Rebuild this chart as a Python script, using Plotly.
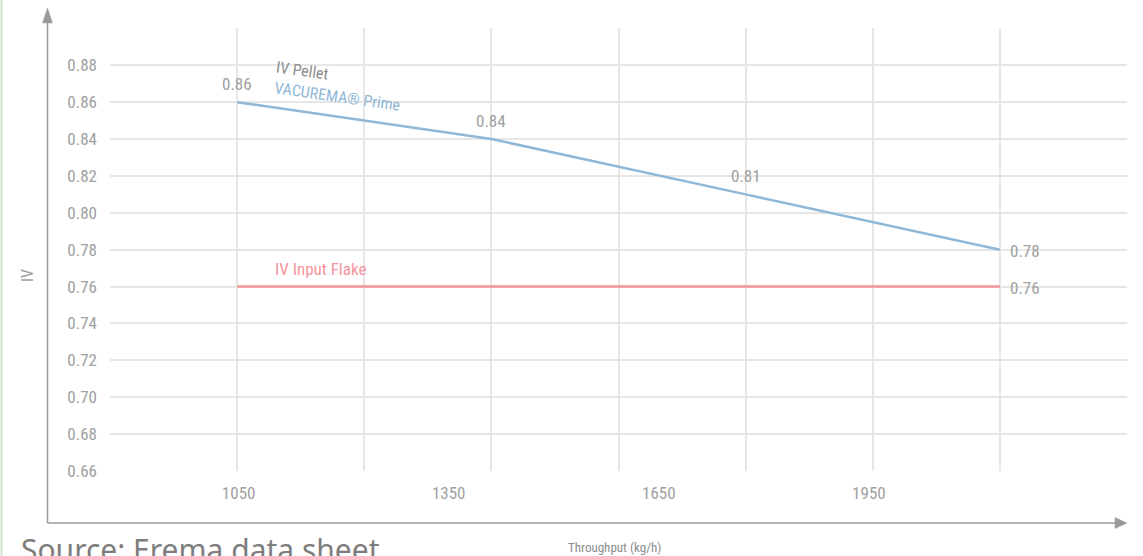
import plotly.graph_objects as go

# ---------------- data ----------------
iv_tick_vals = [0.66, 0.68, 0.70, 0.72, 0.74, 0.76, 0.78, 0.80, 0.82, 0.84, 0.86, 0.88, 0.90]
iv_tick_text = ["0.66", "0.68", "0.70", "0.72", "0.74", "0.76", "0.78", "0.80", "0.82", "0.84", "0.86", "0.88", ""]
throughput_ticks = [1050, 1350, 1650, 1950]
grid_slots = [0, 1, 2, 3, 4, 5, 6]          # vertical grid columns of the chart
pellet_slot = [0, 2, 4, 6]                  # where the IV Pellet points sit on the grid
pellet_iv = [0.86, 0.84, 0.81, 0.78]
flake_slot = [0, 6]
flake_iv = [0.76, 0.76]

# ---------------- layout geometry ----------------
W, H = 1143, 556
L, R, T, B = 110, 1127, 28, 471

def px(x):
    return (x - L) / (R - L)

def py(y):
    return (B - y) / (B - T)

FONT = "Liberation Sans Narrow, Roboto Condensed, Arial Narrow, sans-serif"
TXT = "#a0a0a0"
GRID = "#e6e6e6"
BLUE = "#8fb8d7"
PINK = "#f4949c"
AX = "#9a9a9a"

fig = go.Figure()

fig.add_trace(go.Scatter(
    x=pellet_slot, y=pellet_iv, mode="lines",
    line=dict(color=BLUE, width=2.5), hoverinfo="skip", showlegend=False))
fig.add_trace(go.Scatter(
    x=flake_slot, y=flake_iv, mode="lines",
    line=dict(color=PINK, width=2.5), hoverinfo="skip", showlegend=False))
# invisible trace carrying the throughput tick axis
fig.add_trace(go.Scatter(
    x=throughput_ticks, y=[iv_tick_vals[0]] * len(throughput_ticks), xaxis="x2",
    mode="markers", marker=dict(opacity=0), hoverinfo="skip", showlegend=False))

ann = []
for i, (s, v) in enumerate(zip(pellet_slot, pellet_iv)):
    if i < len(pellet_slot) - 1:
        ann.append(dict(x=s, y=v, xref="x", yref="y", text=f"{v:.2f}", showarrow=False,
                        xanchor="center", yanchor="middle",
                        yshift=18, font=dict(family=FONT, size=17, color=TXT)))
    else:
        ann.append(dict(x=s, y=v, xref="x", yref="y", text=f"{v:.2f}", showarrow=False,
                        xanchor="left", yanchor="middle", xshift=8, yshift=-1,
                        font=dict(family=FONT, size=17, color=TXT)))
ann.append(dict(x=flake_slot[-1], y=flake_iv[-1], xref="x", yref="y", text=f"{flake_iv[-1]:.2f}",
                showarrow=False, xanchor="left", yanchor="middle", xshift=8, yshift=-1,
                font=dict(family=FONT, size=17, color=TXT)))

def lab(x, y, text, size, color, angle=0):
    return dict(x=px(x), y=py(y), xref="paper", yref="paper", text=text, showarrow=False,
                xanchor="center", yanchor="middle", textangle=angle,
                font=dict(family=FONT, size=size, color=color))

# series labels
ann.append(lab(302, 70, "IV Pellet", 16, "#8c8c8c", 8))
ann.append(lab(337, 96, "VACUREMA® Prime", 16, BLUE, 8))
ann.append(lab(320, 269, "IV Input Flake", 17, PINK))

# axis titles
ann.append(lab(27, 276, "IV", 16, TXT, -90))
ann.append(lab(614, 547, "Throughput (kg/h)", 13, "#8c8c8c"))

# source
ann.append(dict(x=px(19), y=py(527), xref="paper", yref="paper", text="Source: Erema data sheet",
                showarrow=False, xanchor="left", yanchor="top",
                font=dict(family="Noto Sans, Open Sans, sans-serif", size=30, color="#7d7d7d")))

shapes = [
    # y axis with arrow
    dict(type="line", xref="paper", yref="paper", x0=px(47.5), x1=px(47.5), y0=py(523), y1=py(22),
         line=dict(color=AX, width=1.5)),
    dict(type="path", xref="paper", yref="paper",
         path=f"M{px(42.5)},{py(23)} L{px(52.5)},{py(23)} L{px(47.5)},{py(8)} Z",
         fillcolor=AX, line=dict(color=AX, width=0.5)),
    # x axis with arrow
    dict(type="line", xref="paper", yref="paper", x0=px(47.5), x1=px(1116), y0=py(523), y1=py(523),
         line=dict(color=AX, width=1.5)),
    dict(type="path", xref="paper", yref="paper",
         path=f"M{px(1115)},{py(517.5)} L{px(1115)},{py(528.5)} L{px(1127)},{py(523)} Z",
         fillcolor=AX, line=dict(color=AX, width=0.5)),
    # green page edge
    dict(type="line", xref="paper", yref="paper", x0=px(1.5), x1=px(1.5), y0=py(0), y1=py(H),
         line=dict(color="#cfe2c9", width=2)),
]

fig.update_layout(
    width=W, height=H,
    margin=dict(l=L, r=W - R, t=T, b=H - B, pad=0),
    paper_bgcolor="white", plot_bgcolor="white",
    showlegend=False,
    font=dict(family=FONT, color=TXT),
    xaxis=dict(range=[-1, 7], tickvals=grid_slots, showticklabels=False, showgrid=True,
               gridcolor=GRID, gridwidth=1.5, zeroline=False, showline=False, ticks=""),
    xaxis2=dict(overlaying="x", anchor="y", side="bottom", range=[866.3, 2318.6],
                tickvals=throughput_ticks, ticktext=[str(t) for t in throughput_ticks],
                showgrid=False, zeroline=False, showline=False, ticks="",
                ticklabelstandoff=10, tickfont=dict(family=FONT, size=17, color=TXT)),
    yaxis=dict(range=[0.66, 0.9002], tickvals=iv_tick_vals, ticktext=iv_tick_text,
               showgrid=True, gridcolor=GRID, gridwidth=1.5, zeroline=False, showline=False,
               ticks="", ticklabelstandoff=12, tickfont=dict(family=FONT, size=17, color=TXT)),
    annotations=ann,
    shapes=shapes,
)

fig.write_html("out.html",
               config={"displayModeBar": False},
               post_script="document.body.style.margin='0';document.body.style.padding='0';")
